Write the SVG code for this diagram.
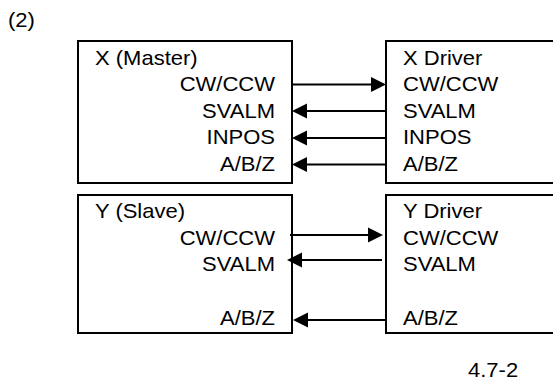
<svg xmlns="http://www.w3.org/2000/svg" width="553" height="390" viewBox="0 0 553 390">
  <defs>
    <style>
      .box { fill: #ffffff; stroke: #000000; stroke-width: 2; }
      .wire { stroke: #000000; stroke-width: 2; fill: none; marker-end: url(#head); }
      text { font-family: "Liberation Sans", Arial, sans-serif; font-size: 20px; fill: #000000; }
      .r { text-anchor: end; }
    </style>
    <!-- filled arrowhead; its base sits at the end of the wire -->
    <marker id="head" markerUnits="userSpaceOnUse" markerWidth="15" markerHeight="15" refX="0" refY="7.5" orient="auto" overflow="visible">
      <path d="M0,0 L15,7.5 L0,15 Z" fill="#000000"/>
    </marker>
  </defs>

  <rect width="553" height="390" fill="#ffffff"/>

  <g id="heading" transform="translate(8 0) scale(1.1 1)">
    <text x="0" y="27">(2)</text>
  </g>

  <!-- X axis controller -->
  <g id="x-master">
    <rect class="box" x="78" y="41" width="214" height="142"/>
    <g transform="translate(95 0) scale(1.1 1)">
      <text x="0" y="65">X (Master)</text>
    </g>
    <g transform="translate(275 0) scale(1.1 1)">
      <text class="r" x="0" y="91.5">CW/CCW</text>
      <text class="r" x="0" y="118">SVALM</text>
      <text class="r" x="0" y="144.5">INPOS</text>
      <text class="r" x="0" y="171">A/B/Z</text>
    </g>
  </g>

  <!-- X axis servo driver -->
  <g id="x-driver">
    <rect class="box" x="386" y="41" width="180" height="142"/>
    <g transform="translate(403 0) scale(1.1 1)">
      <text x="0" y="65">X Driver</text>
      <text x="0" y="91.5">CW/CCW</text>
      <text x="0" y="118">SVALM</text>
      <text x="0" y="144.5">INPOS</text>
      <text x="0" y="171">A/B/Z</text>
    </g>
  </g>

  <!-- Y axis controller -->
  <g id="y-slave">
    <rect class="box" x="78" y="195" width="214" height="138"/>
    <g transform="translate(95 0) scale(1.1 1)">
      <text x="0" y="218">Y (Slave)</text>
    </g>
    <g transform="translate(275 0) scale(1.1 1)">
      <text class="r" x="0" y="245">CW/CCW</text>
      <text class="r" x="0" y="271.5">SVALM</text>
      <text class="r" x="0" y="325.5">A/B/Z</text>
    </g>
  </g>

  <!-- Y axis servo driver -->
  <g id="y-driver">
    <rect class="box" x="386" y="195" width="180" height="138"/>
    <g transform="translate(403 0) scale(1.1 1)">
      <text x="0" y="218">Y Driver</text>
      <text x="0" y="245">CW/CCW</text>
      <text x="0" y="271.5">SVALM</text>
      <text x="0" y="325.5">A/B/Z</text>
    </g>
  </g>

  <!-- signal wires -->
  <g id="connectors">
    <line class="wire" x1="292" y1="84.5" x2="371" y2="84.5"/>
    <line class="wire" x1="386" y1="111" x2="307" y2="111"/>
    <line class="wire" x1="386" y1="138" x2="307" y2="138"/>
    <line class="wire" x1="386" y1="164.5" x2="307" y2="164.5"/>
    <line class="wire" x1="290" y1="235" x2="368" y2="235"/>
    <line class="wire" x1="382" y1="260" x2="302" y2="260"/>
    <line class="wire" x1="386" y1="320" x2="308" y2="320"/>
  </g>

  <g id="figure-number" transform="translate(468 0) scale(1.1 1)">
    <text x="0" y="377">4.7-2</text>
  </g>
</svg>
